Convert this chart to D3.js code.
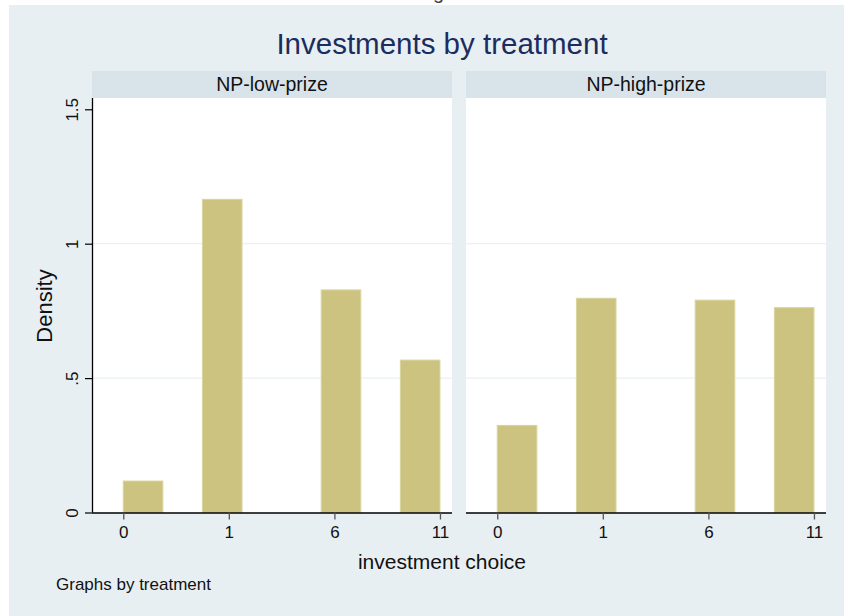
<!DOCTYPE html>
<html>
<head>
<meta charset="utf-8">
<script src="https://cdn.jsdelivr.net/npm/d3@7"></script>
<style>
  html, body { margin: 0; padding: 0; background: #ffffff; }
  svg { display: block; font-family: "Liberation Sans", Arial, Helvetica, sans-serif; }
</style>
</head>
<body>
<div id="chart"></div>
<script>
// ---- data ----
const treatments = ["NP-low-prize", "NP-high-prize"];
const choiceTickPositions = [0, 1, 2, 3];
const choiceTickLabels = ["0", "1", "6", "11"];
const binStarts = [0, 0.75, 1.875, 2.625];
const binWidth = 0.375;
const densityLowPrize = [0.117, 1.165, 0.828, 0.567];
const densityHighPrize = [0.324, 0.797, 0.790, 0.762];
const densityTicks = [0, 0.5, 1, 1.5];
const densityTickLabels = ["0", ".5", "1", "1.5"];
const gridTicks = [0.5, 1];

const panelValues = [densityLowPrize, densityHighPrize];

// ---- layout ----
const W = 844, H = 616;
const svg = d3.select("#chart").append("svg").attr("width", W).attr("height", H);

svg.append("rect").attr("x", 0).attr("y", 0).attr("width", W).attr("height", H).attr("fill", "#ffffff");
svg.append("rect").attr("x", 9).attr("y", 5).attr("width", W - 9).attr("height", H - 5).attr("fill", "#e8eff2");

// fragment of glyph above the image
svg.append("text").attr("x", 433).attr("y", -1).attr("font-size", 20).attr("fill", "#444").text("g");

svg.append("text")
  .attr("x", 442).attr("y", 54)
  .attr("text-anchor", "middle")
  .attr("font-size", 29.5)
  .attr("fill", "#1b2d5e")
  .text("Investments by treatment");

const panelLefts = [92, 466];
const panelWidth = 360;
const plotTop = 98, plotBottom = 512.5;
const stripTop = 71;

const y = d3.scaleLinear().domain([0, 1.542]).range([plotBottom, plotTop]);

treatments.forEach((t, i) => {
  const left = panelLefts[i];
  const x = d3.scaleLinear().domain([-0.296, 3.114]).range([left, left + panelWidth]);
  const g = svg.append("g");

  // strip
  g.append("rect").attr("x", left).attr("y", stripTop).attr("width", panelWidth).attr("height", plotTop - stripTop)
    .attr("fill", "#d9e4ea");
  g.append("text").attr("x", left + panelWidth / 2).attr("y", 91)
    .attr("text-anchor", "middle").attr("font-size", 19.5).attr("fill", "#111")
    .text(t);

  // plot region
  g.append("rect").attr("x", left).attr("y", plotTop).attr("width", panelWidth).attr("height", plotBottom - plotTop)
    .attr("fill", "#ffffff");

  // grid
  g.selectAll(".grid").data(gridTicks).enter().append("line")
    .attr("x1", left).attr("x2", left + panelWidth)
    .attr("y1", d => y(d)).attr("y2", d => y(d))
    .attr("stroke", "#e9f1f2").attr("stroke-width", 1.2);

  // bars
  g.selectAll(".bar").data(panelValues[i]).enter().append("rect")
    .attr("x", (d, k) => x(binStarts[k]))
    .attr("width", (d, k) => x(binStarts[k] + binWidth) - x(binStarts[k]))
    .attr("y", d => y(d))
    .attr("height", d => y(0) - y(d))
    .attr("fill", "#cbc37f")
    .attr("stroke", "#d9d49e")
    .attr("stroke-width", 1);

  // x axis
  const xAxis = d3.axisBottom(x).tickValues(choiceTickPositions)
    .tickFormat((d, k) => choiceTickLabels[k]).tickSize(7).tickSizeOuter(0);
  const xg = g.append("g").attr("transform", `translate(0,${plotBottom})`).call(xAxis);
  xg.attr("font-size", 17).attr("font-family", "Liberation Sans, Arial, sans-serif");
  xg.select(".domain").attr("stroke", "#000").attr("stroke-width", 1.3)
    .attr("d", `M${left},0.5H${left + panelWidth}`);
  xg.selectAll(".tick line").attr("stroke", "#555").attr("stroke-width", 1.3);
  xg.selectAll(".tick text").style("font-size", "17px").attr("fill", "#111").attr("dy", null).attr("y", 25);

  if (i === 0) {
    const yAxis = d3.axisLeft(y).tickValues(densityTicks)
      .tickFormat((d, k) => densityTickLabels[k]).tickSize(7).tickSizeOuter(0);
    const yg = g.append("g").attr("transform", `translate(${left},0)`).call(yAxis);
    yg.attr("font-size", 17).attr("font-family", "Liberation Sans, Arial, sans-serif");
    yg.select(".domain").attr("stroke", "#000").attr("stroke-width", 1.3)
      .attr("d", `M0.5,${plotTop}V${plotBottom}`);
    yg.selectAll(".tick line").attr("stroke", "#000").attr("stroke-width", 1.2);
    yg.selectAll(".tick text")
      .style("font-size", "17px").attr("fill", "#111")
      .attr("x", null).attr("dy", null)
      .attr("transform", "translate(-14,0) rotate(-90)")
      .attr("text-anchor", "middle").attr("y", 0);
  }
});

// axis titles
svg.append("text").attr("x", 442).attr("y", 569).attr("text-anchor", "middle")
  .attr("font-size", 21).attr("fill", "#111").text("investment choice");
svg.append("text").attr("transform", "translate(52,306) rotate(-90)").attr("text-anchor", "middle")
  .attr("font-size", 22).attr("fill", "#111").text("Density");
svg.append("text").attr("x", 56).attr("y", 590).attr("font-size", 17).attr("fill", "#111").text("Graphs by treatment");
</script>
</body>
</html>
